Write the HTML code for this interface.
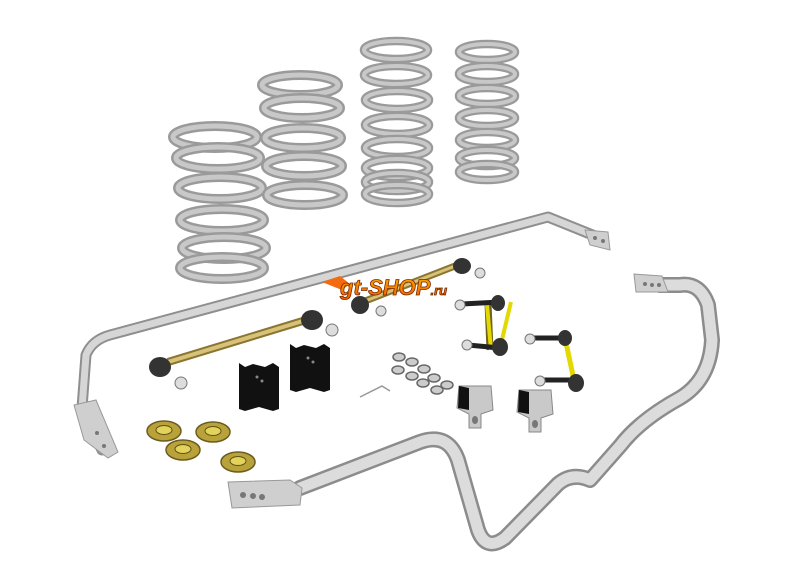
<!DOCTYPE html>
<html><head><meta charset="utf-8"><style>
html,body{margin:0;padding:0;background:#fff;width:800px;height:572px;overflow:hidden}
svg{display:block}
</style></head><body>
<svg width="800" height="572" viewBox="0 0 800 572" xmlns="http://www.w3.org/2000/svg">
<defs>
<linearGradient id="lg" x1="0" y1="0" x2="0" y2="1"><stop offset="0" stop-color="#ffb000"/><stop offset="1" stop-color="#f25a00"/></linearGradient>
<g id="c1"><ellipse cx="0" cy="0" rx="42" ry="11" fill="none" stroke="#9a9a9a" stroke-width="10"/><ellipse cx="0" cy="0" rx="42" ry="11" fill="none" stroke="#c8c8c8" stroke-width="5"/></g>
<g id="c2"><ellipse cx="0" cy="0" rx="38" ry="10" fill="none" stroke="#9a9a9a" stroke-width="10"/><ellipse cx="0" cy="0" rx="38" ry="10" fill="none" stroke="#c8c8c8" stroke-width="5"/></g>
<g id="c3"><ellipse cx="0" cy="0" rx="32" ry="9" fill="none" stroke="#9a9a9a" stroke-width="8.5"/><ellipse cx="0" cy="0" rx="32" ry="9" fill="none" stroke="#c8c8c8" stroke-width="4"/></g>
<g id="c4"><ellipse cx="0" cy="0" rx="28" ry="8" fill="none" stroke="#9a9a9a" stroke-width="8.5"/><ellipse cx="0" cy="0" rx="28" ry="8" fill="none" stroke="#c8c8c8" stroke-width="4"/></g>
<g id="washer"><ellipse cx="0" cy="0" rx="17" ry="10" fill="#b9a23a" stroke="#6b5d20" stroke-width="1.5"/><ellipse cx="0" cy="-1" rx="8" ry="4.5" fill="#e3d35a" stroke="#5e5218" stroke-width="1"/></g>
<g id="bush"><path d="M-20,-22 L-14,-18 L-6,-21 L6,-18 L14,-22 L20,-18 L20,24 L14,26 L0,22 L-14,26 L-20,24 Z" fill="#111"/><circle cx="-2" cy="-8" r="1.5" fill="#888"/><circle cx="3" cy="-4" r="1.5" fill="#888"/></g>
<g id="clamp"><path d="M-16,-14 L16,-14 L18,10 L6,14 L6,28 L-6,28 L-6,14 L-18,8 Z" fill="#c9c9c9" stroke="#888" stroke-width="1"/><path d="M-16,-14 L-6,-12 L-6,10 L-17,8 Z" fill="#111"/><ellipse cx="0" cy="20" rx="3" ry="4" fill="#777"/></g>
</defs>

<g>
<use href="#c1" x="215" y="137"/><use href="#c1" x="218" y="158"/><use href="#c1" x="220" y="188"/><use href="#c1" x="222" y="220"/><use href="#c1" x="224" y="248"/><use href="#c1" x="222" y="268"/>
<use href="#c2" x="300" y="85"/><use href="#c2" x="302" y="108"/><use href="#c2" x="303" y="138"/><use href="#c2" x="304" y="166"/><use href="#c2" x="305" y="195"/>
<use href="#c3" x="396" y="50"/><use href="#c3" x="396" y="75"/><use href="#c3" x="397" y="100"/><use href="#c3" x="397" y="125"/><use href="#c3" x="397" y="148"/><use href="#c3" x="397" y="168"/><use href="#c3" x="397" y="182"/><use href="#c3" x="397" y="194"/>
<use href="#c4" x="487" y="52"/><use href="#c4" x="487" y="74"/><use href="#c4" x="487" y="96"/><use href="#c4" x="487" y="118"/><use href="#c4" x="487" y="140"/><use href="#c4" x="487" y="158"/><use href="#c4" x="487" y="172"/>
</g>

<path d="M102,450 L82,408 L86,355 Q92,340 110,335 L548,217 L600,238" fill="none" stroke="#8f8f8f" stroke-width="11" stroke-linejoin="round" stroke-linecap="round"/>
<path d="M102,450 L82,408 L86,355 Q92,340 110,335 L548,217 L600,238" fill="none" stroke="#d6d6d6" stroke-width="7" stroke-linejoin="round" stroke-linecap="round"/>
<path d="M74,405 L96,400 L118,452 L108,458 L84,440 Z" fill="#cfcfcf" stroke="#999" stroke-width="1"/>
<circle cx="97" cy="433" r="2" fill="#777"/><circle cx="104" cy="446" r="2" fill="#777"/>
<path d="M585,230 L608,232 L610,250 L590,245 Z" fill="#cfcfcf" stroke="#999" stroke-width="1"/>
<circle cx="595" cy="238" r="2" fill="#777"/><circle cx="603" cy="241" r="2" fill="#777"/>

<path d="M300,488 L420,442 Q448,432 458,460 L478,530 Q486,552 505,538 L558,484 Q572,472 590,480 L620,446 Q640,420 680,398 Q710,380 712,340 L708,305 Q700,282 680,285 L660,285" fill="none" stroke="#8c8c8c" stroke-width="16" stroke-linejoin="round" stroke-linecap="round"/>
<path d="M300,488 L420,442 Q448,432 458,460 L478,530 Q486,552 505,538 L558,484 Q572,472 590,480 L620,446 Q640,420 680,398 Q710,380 712,340 L708,305 Q700,282 680,285 L660,285" fill="none" stroke="#dcdcdc" stroke-width="11" stroke-linejoin="round" stroke-linecap="round"/>
<path d="M228,482 L290,480 L302,488 L300,505 L232,508 Z" fill="#cfcfcf" stroke="#999" stroke-width="1"/>
<circle cx="243" cy="495" r="3" fill="#777"/><circle cx="253" cy="496" r="3" fill="#777"/><circle cx="262" cy="497" r="3" fill="#777"/>
<path d="M634,274 L662,276 L668,292 L636,292 Z" fill="#cfcfcf" stroke="#999" stroke-width="1"/>
<circle cx="645" cy="284" r="2" fill="#777"/><circle cx="652" cy="285" r="2" fill="#777"/><circle cx="659" cy="285" r="2" fill="#777"/>

<path d="M168,362 L306,320" stroke="#8a7630" stroke-width="8"/><path d="M168,362 L306,320" stroke="#d8c27a" stroke-width="4"/>
<ellipse cx="160" cy="367" rx="11" ry="10" fill="#333"/><circle cx="181" cy="383" r="6" fill="#ddd" stroke="#777"/>
<ellipse cx="312" cy="320" rx="11" ry="10" fill="#333"/><circle cx="332" cy="330" r="6" fill="#ddd" stroke="#777"/>
<path d="M360,303 L455,266" stroke="#8a7630" stroke-width="7"/><path d="M360,303 L455,266" stroke="#d8c27a" stroke-width="3"/>
<ellipse cx="360" cy="305" rx="9" ry="9" fill="#333"/><circle cx="381" cy="311" r="5" fill="#ddd" stroke="#777"/>
<ellipse cx="462" cy="266" rx="9" ry="8" fill="#333"/><circle cx="480" cy="273" r="5" fill="#ddd" stroke="#777"/>

<path d="M488,303 L490,350" stroke="#6f6320" stroke-width="7"/><path d="M487,305 L491,350 M511,302 L500,348" stroke="#e3d800" stroke-width="4"/>
<path d="M462,304 L500,302 M468,345 L500,348" stroke="#222" stroke-width="5"/>
<circle cx="460" cy="305" r="5" fill="#ddd" stroke="#777"/><circle cx="467" cy="345" r="5" fill="#ddd" stroke="#777"/>
<ellipse cx="498" cy="303" rx="7" ry="8" fill="#333"/><ellipse cx="500" cy="347" rx="8" ry="9" fill="#333"/>
<path d="M565,338 L575,385" stroke="#e3d800" stroke-width="5"/>
<path d="M530,338 L565,338 M540,380 L578,380" stroke="#222" stroke-width="5"/>
<circle cx="530" cy="339" r="5" fill="#ddd" stroke="#777"/><circle cx="540" cy="381" r="5" fill="#ddd" stroke="#777"/>
<ellipse cx="565" cy="338" rx="7" ry="8" fill="#333"/><ellipse cx="576" cy="383" rx="8" ry="9" fill="#333"/>

<use href="#bush" x="259" y="385"/><use href="#bush" x="310" y="366"/>
<use href="#clamp" x="475" y="400"/><use href="#clamp" x="535" y="404"/>

<g fill="#ccc" stroke="#666" stroke-width="1.5">
<ellipse cx="399" cy="357" rx="6" ry="4"/><ellipse cx="412" cy="362" rx="6" ry="4"/><ellipse cx="398" cy="370" rx="6" ry="4"/><ellipse cx="424" cy="369" rx="6" ry="4"/>
<ellipse cx="412" cy="376" rx="6" ry="4"/><ellipse cx="434" cy="378" rx="6" ry="4"/><ellipse cx="423" cy="383" rx="6" ry="4"/><ellipse cx="447" cy="385" rx="6" ry="4"/><ellipse cx="437" cy="390" rx="6" ry="4"/>
</g>
<path d="M360,397 L382,386 L390,391" fill="none" stroke="#999" stroke-width="1.5"/>

<use href="#washer" x="164" y="431"/><use href="#washer" x="213" y="432"/><use href="#washer" x="183" y="450"/><use href="#washer" x="238" y="462"/>

<path d="M322,282 L340,276 L350,284 L342,290 Z" fill="#f36a10"/>
<text x="340" y="295" font-family="Liberation Sans, sans-serif" font-weight="bold" font-style="italic" font-size="22" fill="url(#lg)" stroke="#7a2800" stroke-width="0.8">gt-SHOP<tspan font-size="13">.ru</tspan></text>
</svg>
</body></html>
